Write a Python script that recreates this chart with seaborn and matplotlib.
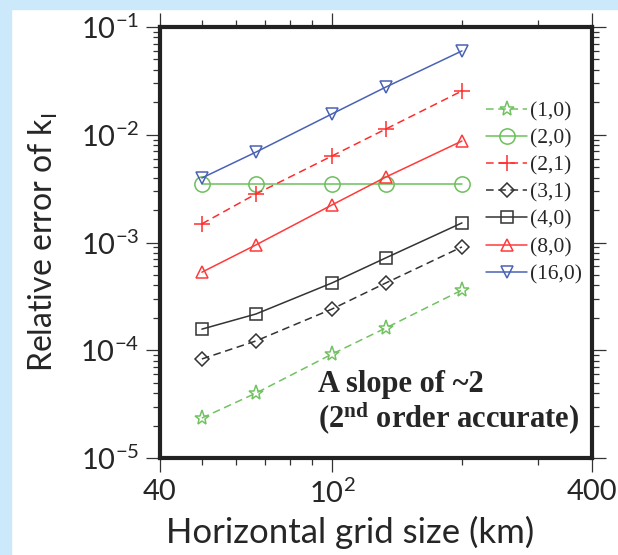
import numpy as np
import pandas as pd
import matplotlib
matplotlib.use("Agg")
import matplotlib.pyplot as plt
import matplotlib.ticker as mticker
from matplotlib.patches import Rectangle
import seaborn as sns

# grid sizes (km) and relative error of k_I for each (n,m) case
grid_km = [50, 66.7, 100, 133.3, 200]
err_1_0 = [2.35e-5, 4.0e-5, 9.2e-5, 1.61e-4, 3.62e-4]
err_2_0 = [3.5e-3, 3.5e-3, 3.5e-3, 3.5e-3, 3.5e-3]
err_2_1 = [1.49e-3, 2.82e-3, 6.35e-3, 1.13e-2, 2.55e-2]
err_3_1 = [8.3e-5, 1.22e-4, 2.41e-4, 4.21e-4, 9.1e-4]
err_4_0 = [1.57e-4, 2.17e-4, 4.21e-4, 7.2e-4, 1.52e-3]
err_8_0 = [5.3e-4, 9.5e-4, 2.23e-3, 4.05e-3, 8.75e-3]
err_16_0 = [3.97e-3, 6.9e-3, 1.56e-2, 2.77e-2, 6.0e-2]

labels = ["(1,0)", "(2,0)", "(2,1)", "(3,1)", "(4,0)", "(8,0)", "(16,0)"]
series = [err_1_0, err_2_0, err_2_1, err_3_1, err_4_0, err_8_0, err_16_0]
colors = ["#72c262", "#6cc05c", "#ff2d2d", "#333333", "#333333", "#ff3a3a", "#4a62b4"]
markers = ["*", "o", "+", "D", "s", "^", "v"]
msizes = [11, 11, 12, 7.5, 8, 9, 9]
dashed = [True, False, True, True, False, False, False]

sns.set_style("ticks")
plt.rcParams["font.family"] = ["Lato", "DejaVu Sans"]
plt.rcParams["mathtext.default"] = "regular"

fig = plt.figure(figsize=(6.18, 5.55), dpi=100)
fig.patch.set_facecolor("white")
# light blue slide background strips
fig.patches.append(Rectangle((0, 0), 11 / 618, 1, transform=fig.transFigure,
                             color="#cce9fc", zorder=-1))
fig.patches.append(Rectangle((0, 1 - 9 / 555), 1, 9 / 555, transform=fig.transFigure,
                             color="#cce9fc", zorder=-1))
ax = fig.add_axes([160 / 618, 1 - 458 / 555, 432 / 618, 431 / 555])

for lab, vals, c, m, ms, d in zip(labels, series, colors, markers, msizes, dashed):
    df = pd.DataFrame({"grid": grid_km, "err": vals})
    sns.lineplot(data=df, x="grid", y="err", ax=ax, color=c, marker=m,
                 markersize=ms, fillstyle="none", markeredgecolor=c,
                 markeredgewidth=1.1, linewidth=1.1,
                 linestyle=(0, (5, 3)) if d else "-", label=lab)

ax.set_xscale("log")
ax.set_yscale("log")
ax.set_xlim(40, 400)
ax.set_ylim(1e-5, 1e-1)

ax.xaxis.set_major_locator(mticker.FixedLocator([40, 100, 400]))
ax.xaxis.set_major_formatter(mticker.FixedFormatter(["40", r"$10^{2}$", "400"]))
ax.xaxis.set_minor_locator(mticker.FixedLocator([50, 60, 70, 80, 90, 200, 300]))
ax.xaxis.set_minor_formatter(mticker.NullFormatter())
ax.yaxis.set_major_locator(mticker.LogLocator(base=10, numticks=10))
ax.yaxis.set_minor_locator(mticker.LogLocator(base=10, subs=np.arange(2, 10), numticks=10))

ax.tick_params(which="both", direction="out", top=True, right=True,
               color="#333333", width=0.9, labelsize=21)
ax.tick_params(which="major", length=10, pad=5)
ax.tick_params(which="minor", length=5)
for sp in ax.spines.values():
    sp.set_linewidth(3)
    sp.set_color("#222222")

ax.set_xlabel("Horizontal grid size (km)", fontsize=25)
ax.xaxis.set_label_coords(0.44, -0.135)
ax.set_ylabel(r"Relative error of k$_{I}$", fontsize=23)
ax.yaxis.set_label_coords(-0.232, 0.5)

leg = ax.legend(loc="upper right", bbox_to_anchor=(0.978, 0.828), frameon=False,
                prop={"family": "Liberation Serif", "size": 15.5},
                handlelength=1.9, handletextpad=0.15, labelspacing=0.33,
                borderpad=0, borderaxespad=0)

ax.text(0.365, 0.153, "A slope of ~2", transform=ax.transAxes,
        fontfamily="Liberation Serif", fontweight="bold", fontsize=22,
        va="baseline", ha="left")
ax.text(0.365, 0.07, r"(2$^{\mathregular{nd}}$ order accurate)", transform=ax.transAxes,
        fontfamily="Liberation Serif", fontweight="bold", fontsize=22,
        va="baseline", ha="left")

fig.savefig("out.png", dpi=100)
